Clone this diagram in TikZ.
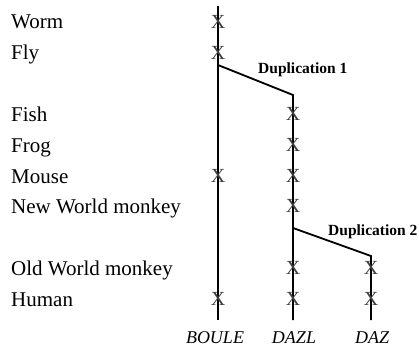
\documentclass[tikz,border=0pt]{standalone}
\usepackage{fontspec}
\setmainfont{Liberation Serif}
\usetikzlibrary{positioning}

\begin{document}
\begin{tikzpicture}[x=1pt,y=-1pt,
    gene/.style={line width=1.8pt},
    species/.style={anchor=base west,inner sep=0pt,font=\fontsize{21}{22}\selectfont},
    xmark/.style={inner sep=0pt,text=black!75,font=\fontsize{20}{20}\selectfont},
    dup/.style={anchor=west,inner sep=0pt,font=\bfseries\fontsize{15.5}{16}\selectfont},
    genename/.style={anchor=base,inner sep=0pt,font=\itshape\fontsize{18}{20}\selectfont}]
      \useasboundingbox (0,0) rectangle (419,350);
      \def\xb{218}
      \def\xl{293}
      \def\xd{371}
      % Draw the species
      \node[species] (worm) at (11,29) {Worm};
      \node[species] (fly) at (11,60) {Fly};
      \node[species] (fish) at (11,121) {Fish};
      \node[species] (frog) at (11,152) {Frog};
      \node[species] (mouse) at (11,183) {Mouse};
      \node[species] (nwm) at (11,213) {New World monkey};
      \node[species] (owm) at (11,275) {Old World monkey};
      \node[species] (human) at (11,306) {Human};
      % Draw the genes
      \coordinate (boule top) at (\xb,6);
      \coordinate (boule end) at (\xb,320);
      \coordinate (dup1 start) at (\xb,65);
      \coordinate (dazl top) at (\xl,95);
      \coordinate (dazl end) at (\xl,320);
      \coordinate (dup2 start) at (\xl,228);
      \coordinate (daz top) at (\xd,256);
      \coordinate (daz end) at (\xd,320);
      \draw[gene] (boule top) -- (boule end);
      \draw[gene] (dup1 start) -- (dazl top) -- (dazl end);
      \draw[gene] (dup2 start) -- (daz top) -- (daz end);
      % Duplications
      \node[dup] (dup1) at (258,70) {Duplication 1};
      \node[dup] (dup2) at (328,232) {Duplication 2};
      % Marks on BOULE
      \node[xmark] (b1) at (\xb,22) {X};
      \node[xmark] (b2) at (\xb,53) {X};
      \node[xmark] (b3) at (\xb,176) {X};
      \node[xmark] (b4) at (\xb,299) {X};
      % Marks on DAZL
      \node[xmark] (l1) at (\xl,114) {X};
      \node[xmark] (l2) at (\xl,145) {X};
      \node[xmark] (l3) at (\xl,176) {X};
      \node[xmark] (l4) at (\xl,206) {X};
      \node[xmark] (l5) at (\xl,268) {X};
      \node[xmark] (l6) at (\xl,299) {X};
      % Marks on DAZ
      \node[xmark] (d1) at (\xd,268) {X};
      \node[xmark] (d2) at (\xd,299) {X};
      % Gene names
      \node[genename] (boule) at (\xb-3,343) {BOULE};
      \node[genename] (dazl) at (\xl+1,343) {DAZL};
      \node[genename] (daz) at (\xd+1,343) {DAZ};
\end{tikzpicture}
\end{document}
